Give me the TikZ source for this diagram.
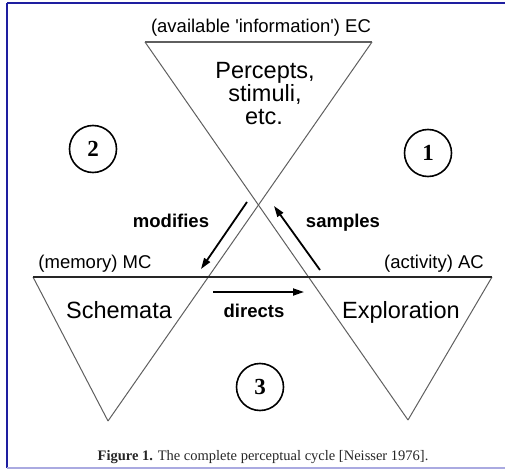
\documentclass[tikz,border=0pt]{standalone}
\usepackage{fontspec}
\setmainfont{Liberation Serif}
\setsansfont{Liberation Sans}
\usetikzlibrary{arrows.meta}

\definecolor{framedark}{RGB}{30,30,160}
\definecolor{framelight}{RGB}{170,170,225}
\definecolor{edgegray}{RGB}{95,95,95}

\begin{document}
\begin{tikzpicture}[x=1pt, y=-1pt,
    edge/.style={draw=edgegray, line width=1pt},
    axis/.style={draw=black!85, line width=1.6pt},
    flow/.style={draw=black, line width=1.8pt, -{Triangle[length=11pt,width=7pt]}},
    tag/.style={font=\sffamily\fontsize{18.5}{20}\selectfont, anchor=base, inner sep=0pt},
    verb/.style={font=\sffamily\bfseries\fontsize{18.5}{20}\selectfont, anchor=base, inner sep=0pt},
    big/.style={font=\sffamily\fontsize{23.5}{26}\selectfont, anchor=base, inner sep=0pt},
    num/.style={circle, draw=black, line width=1.6pt, minimum size=47pt, inner sep=0pt,
      font=\bfseries\fontsize{23}{24}\selectfont}
  ]
  \useasboundingbox (0,0) rectangle (505,470);
  % frame
  \draw[framedark, line width=2.2pt] (7,3) -- (505,3);
  \draw[framedark, line width=2pt] (7,3) -- (7,468);
  \draw[framelight, line width=1.5pt] (7,468) -- (505,468);

  % corners of the three triangles
  \coordinate (ecL) at (145,42);
  \coordinate (ecR) at (372,42);
  \coordinate (mcL) at (33,277);
  \coordinate (acR) at (492,277);
  \coordinate (mcB) at (108,421);
  \coordinate (acB) at (408,420);

  % triangles
  \draw[edge, line width=1.3pt] (ecL) -- (ecR);
  \draw[edge] (ecL) -- (acB);
  \draw[edge] (ecR) -- (mcB);
  \draw[edge] (mcL) -- (mcB);
  \draw[edge] (acR) -- (acB);
  \draw[axis] (mcL) -- (acR);

  % labels of the triangles
  \node[tag] (ec) at (261,33) {(available \textquotesingle information\textquotesingle) EC};
  \node[tag] (mc) at (95,268) {(memory) MC};
  \node[tag] (ac) at (434,268) {(activity) AC};

  \node[big] (pc1) at (265,79) {Percepts,};
  \node[big] (pc2) at (265,102) {stimuli,};
  \node[big] (pc3) at (264,125) {etc.};
  \node[big] (sch) at (119,318) {Schemata};
  \node[big] (exp) at (401,318) {Exploration};

  % arrows
  \coordinate (modS) at (247,202);
  \coordinate (modE) at (201,269);
  \coordinate (samS) at (320,270);
  \coordinate (samE) at (274,206);
  \coordinate (dirS) at (213,292);
  \coordinate (dirE) at (304,292);
  \draw[flow] (modS) -- (modE);
  \draw[flow] (samS) -- (samE);
  \draw[flow] (dirS) -- (dirE);

  \node[verb] (mod) at (171,227) {modifies};
  \node[verb] (sam) at (343,227) {samples};
  \node[verb] (dir) at (254,317) {directs};

  % numbered phases
  \node[num] (n2) at (93,149) {2};
  \node[num] (n1) at (428,153) {1};
  \node[num] (n3) at (260,387) {3};

  % caption
  \node[font=\fontsize{14.5}{16}\selectfont, anchor=base, inner sep=0pt, text=black!85] (cap) at (263,460)
    {\textbf{Figure 1.} The complete perceptual cycle [Neisser 1976].};
\end{tikzpicture}
\end{document}
